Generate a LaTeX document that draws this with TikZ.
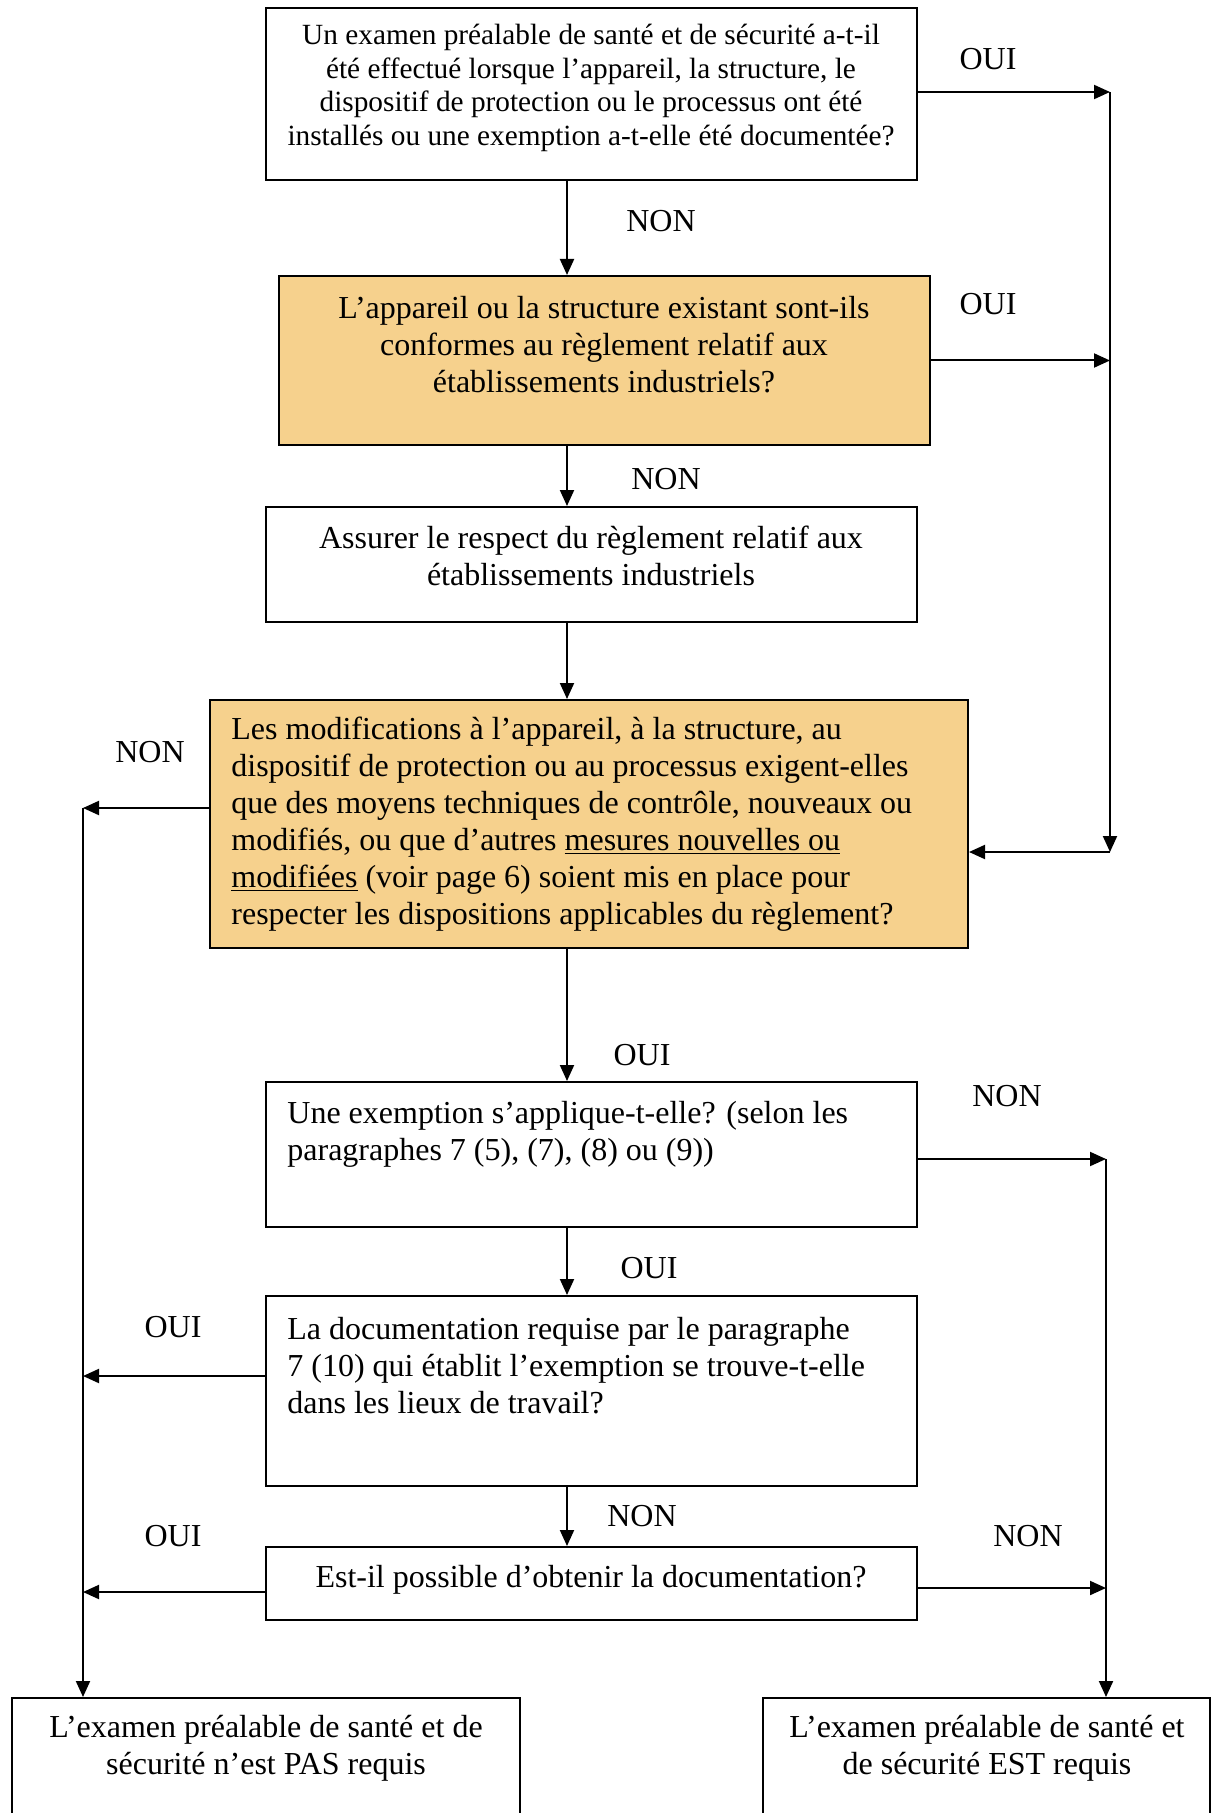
\documentclass[tikz,border=0pt]{standalone}
\usepackage{fontspec}
\setmainfont{Liberation Serif}
\usetikzlibrary{arrows.meta,fit}
\definecolor{boxfill}{RGB}{246,209,141}
\begin{document}
\begin{tikzpicture}[x=0.5pt,y=-0.5pt,
  box/.style={draw=black, line width=1pt, inner sep=0pt},
  hilite/.style={box, fill=boxfill},
  arr/.style={line width=1pt, -{Triangle[length=8pt,width=7pt]}},
  txt/.style={inner sep=0pt, font=\fontsize{16}{18.5}\selectfont, align=center},
  smalltxt/.style={inner sep=0pt, font=\fontsize{14.65}{16.8}\selectfont, align=center},
  lefttxt/.style={inner sep=0pt, font=\fontsize{16}{18.5}\selectfont, align=left, anchor=west},
  lbl/.style={inner sep=0pt, font=\fontsize{16}{18.5}\selectfont}]
\useasboundingbox (0,0) rectangle (1219,1813);
\clip (0,0) rectangle (1219,1813);

% boxes
\node[box, fit={(266,8) (917,180)}] (b1) {};
\node[hilite, fit={(279,276) (930,445)}] (b2) {};
\node[box, fit={(266,507) (917,622)}] (b3) {};
\node[hilite, fit={(210,700) (968,948)}] (b4) {};
\node[box, fit={(266,1082) (917,1227)}] (b5) {};
\node[box, fit={(266,1296) (917,1486)}] (b6) {};
\node[box, fit={(266,1547) (917,1620)}] (b7) {};
\node[box, fit={(12,1698) (520,1840)}] (b8) {};
\node[box, fit={(763,1698) (1210,1840)}] (b9) {};

% box texts
\node[smalltxt] (t1) at (591,88) {Un examen préalable de santé et de sécurité a-t-il\\été effectué lorsque l’appareil, la structure, le\\dispositif de protection ou le processus ont été\\installés ou une exemption a-t-elle été documentée?};
\node[txt] (t2) at (604,345) {L’appareil ou la structure existant sont-ils\\conformes au règlement relatif aux\\établissements industriels?};
\node[txt] (t3) at (591,556) {Assurer le respect du règlement relatif aux\\établissements industriels};
\node[lefttxt] (t4) at (231,824) {Les modifications à l’appareil, à la structure, au\\dispositif de protection ou au processus exigent-elles\\que des moyens techniques de contrôle, nouveaux ou\\modifiés, ou que d’autres \underline{mesures nouvelles ou}\\\underline{modifiées} (voir page 6) soient mis en place pour\\respecter les dispositions applicables du règlement?};
\node[lefttxt] (t5) at (287,1134) {Une exemption s’applique-t-elle? (selon les\\paragraphes 7 (5), (7), (8) ou (9))};
\node[lefttxt] (t6) at (287,1366) {La documentation requise par le paragraphe\\7 (10) qui établit l’exemption se trouve-t-elle\\dans les lieux de travail?};
\node[txt] (t7) at (591,1580) {Est-il possible d’obtenir la documentation?};
\node[txt] (t8) at (266,1748) {L’examen préalable de santé et de\\sécurité n’est PAS requis};
\node[txt] (t9) at (987,1748) {L’examen préalable de santé et\\de sécurité EST requis};

% trunk positions
\coordinate (mx) at (567,0);
\coordinate (ra) at (1110,92);
\coordinate (rb) at (1110,852);
\coordinate (la) at (83,808);
\coordinate (l6) at (83,1376);
\coordinate (l7) at (83,1592);
\coordinate (rc) at (1106,1159);
\coordinate (rd) at (1106,1588);

% main column
\draw[arr] (b1.south -| mx) -- (b2.north -| mx);
\draw[arr] (b2.south -| mx) -- (b3.north -| mx);
\draw[arr] (b3.south -| mx) -- (b4.north -| mx);
\draw[arr] (b4.south -| mx) -- (b5.north -| mx);
\draw[arr] (b5.south -| mx) -- (b6.north -| mx);
\draw[arr] (b6.south -| mx) -- (b7.north -| mx);

% right trunk (upper)
\draw[arr] (b1.east |- ra) -- (ra);
\draw[arr] (b2.east) -- (b2.east -| ra);
\draw[arr] (ra) -- (rb);
\draw[arr] (rb) -- (b4.east |- rb);

% left trunk
\draw[arr] (b4.west |- la) -- (la);
\draw[arr] (b6.west |- l6) -- (l6);
\draw[arr] (b7.west |- l7) -- (l7);
\draw[arr] (la) -- (b8.north -| la);

% right trunk (lower)
\draw[arr] (b5.east |- rc) -- (rc);
\draw[arr] (b7.east |- rd) -- (rd);
\draw[arr] (rc) -- (b9.north -| rc);

% branch labels
\node[lbl] (o1) at (988,59) {OUI};
\node[lbl] (n1) at (661,221) {NON};
\node[lbl] (o2) at (988,304) {OUI};
\node[lbl] (n2) at (666,479) {NON};
\node[lbl] (n4) at (150,752) {NON};
\node[lbl] (o4) at (642,1055) {OUI};
\node[lbl] (n5) at (1007,1096) {NON};
\node[lbl] (o5) at (649,1268) {OUI};
\node[lbl] (o6) at (173,1327) {OUI};
\node[lbl] (n6) at (642,1516) {NON};
\node[lbl] (o7) at (173,1536) {OUI};
\node[lbl] (n7) at (1028,1536) {NON};
\end{tikzpicture}
\end{document}
